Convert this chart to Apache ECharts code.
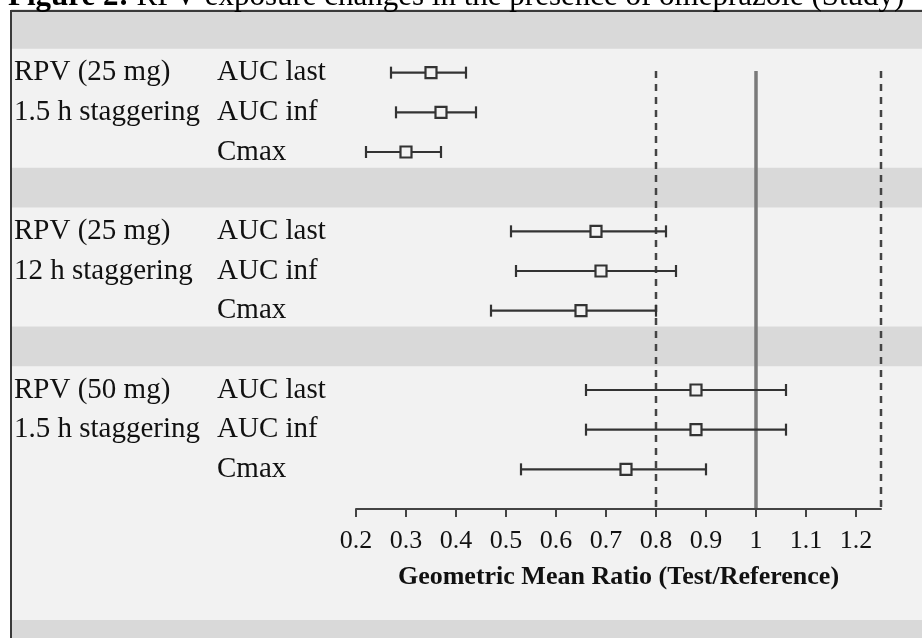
<!DOCTYPE html>
<html>
<head>
<meta charset="utf-8">
<title>RPV exposure forest plot</title>
<script src="https://cdn.jsdelivr.net/npm/echarts@6/dist/echarts.min.js"></script>
<style>
  html, body { margin: 0; padding: 0; background: #ffffff; }
  #chart { width: 922px; height: 638px; }
</style>
</head>
<body>
<div id="chart"></div>
<script>
// Study arms (two text lines each) and the PK parameters shown for every arm
const groupLines = [
  ['RPV (25 mg)', '1.5 h staggering'],
  ['RPV (25 mg)', '12 h staggering'],
  ['RPV (50 mg)', '1.5 h staggering']
];
const params = ['AUC last', 'AUC inf', 'Cmax'];

// Geometric mean ratios and 90% CI bounds, one array per arm (AUC last, AUC inf, Cmax)
const gmr25_15   = [0.35, 0.37, 0.30];
const lower25_15 = [0.27, 0.28, 0.22];
const upper25_15 = [0.42, 0.44, 0.37];

const gmr25_12   = [0.68, 0.69, 0.65];
const lower25_12 = [0.51, 0.52, 0.47];
const upper25_12 = [0.82, 0.84, 0.80];

const gmr50_15   = [0.88, 0.88, 0.74];
const lower50_15 = [0.66, 0.66, 0.53];
const upper50_15 = [1.06, 1.06, 0.90];

// Reference ratio and bioequivalence limits
const noEffect = 1;
const beLimits = [0.8, 1.25];

// X axis ticks
const tickValues = [0.2, 0.3, 0.4, 0.5, 0.6, 0.7, 0.8, 0.9, 1, 1.1, 1.2];
const xMin = 0.2;
const xMax = 1.25;

// ---- build rows: each arm takes a spacer row followed by three parameter rows
const arms = [
  { gmr: gmr25_15, lo: lower25_15, hi: upper25_15 },
  { gmr: gmr25_12, lo: lower25_12, hi: upper25_12 },
  { gmr: gmr50_15, lo: lower50_15, hi: upper50_15 }
];
const rowLabel = {};
const barData = [];
arms.forEach((arm, g) => {
  params.forEach((p, k) => {
    const row = 1 + 4 * g + k;
    rowLabel[row] = { group: groupLines[g][k] || '', param: p };
    barData.push([row, arm.lo[k], arm.gmr[k], arm.hi[k]]);
  });
});
const rowCount = 12;

// shaded spacer bands (in row units)
const bandRows = [[-0.6, 0.4], [3.4, 4.4], [7.4, 8.4], [14.8, 15.6]];

const refData = [
  [beLimits[0], 1],
  [noEffect, 0],
  [beLimits[1], 1]
];

const SERIF = 'Liberation Serif, Times New Roman, serif';
const INK = '#333333';

const chart = echarts.init(document.getElementById('chart'), null, { renderer: 'canvas' });

chart.setOption({
  animation: false,
  backgroundColor: '#ffffff',
  grid: { left: 356, right: 41, top: 33, bottom: 129, containLabel: false },
  xAxis: {
    type: 'value',
    min: xMin,
    max: xMax,
    z: 5,
    name: 'Geometric Mean Ratio (Test/Reference)',
    nameLocation: 'middle',
    nameGap: 55,
    nameTextStyle: { fontFamily: SERIF, fontSize: 26, fontWeight: 'bold', color: '#111' },
    axisLine: { onZero: false, lineStyle: { color: '#444', width: 2 } },
    axisTick: { customValues: tickValues, length: 8, lineStyle: { color: '#444', width: 2 } },
    axisLabel: {
      customValues: tickValues,
      fontFamily: SERIF, fontSize: 26, color: '#111', margin: 19,
      formatter: v => String(Math.round(v * 10) / 10)
    },
    splitLine: { show: false }
  },
  yAxis: {
    type: 'value',
    inverse: true,
    min: 0,
    max: rowCount,
    interval: 1,
    axisLine: { show: false },
    axisTick: { show: false },
    splitLine: { show: false },
    axisLabel: {
      align: 'left',
      margin: 342,
      formatter: v => {
        const r = rowLabel[v];
        if (!r) return '';
        return '{g|' + (r.group || ' ') + '}{p|' + r.param + '}';
      },
      rich: {
        g: { fontFamily: SERIF, fontSize: 29, color: '#111', width: 203 },
        p: { fontFamily: SERIF, fontSize: 29, color: '#111' }
      }
    }
  },
  graphic: [
    {
      type: 'rect', z: -10, silent: true,
      shape: { x: 11, y: 11, width: 940, height: 700 },
      style: { fill: '#f2f2f2' }
    },
    {
      type: 'rect', z: 100, silent: true,
      shape: { x: 11, y: 11, width: 940, height: 700 },
      style: { fill: 'none', stroke: '#3a3a3a', lineWidth: 2 }
    },
    {
      type: 'text', z: 100, silent: true,
      x: 8, y: -3,
      style: {
        text: '{b|Figure 2:} RPV exposure changes in the presence of omeprazole (Study)',
        fontFamily: SERIF, fontSize: 31, fill: '#000', verticalAlign: 'middle',
        rich: { b: { fontFamily: SERIF, fontSize: 31, fontWeight: 'bold', fill: '#000' } }
      }
    }
  ],
  series: [
    {
      // spacer bands across the whole panel
      type: 'custom',
      z: 1,
      clip: false,
      silent: true,
      data: bandRows,
      renderItem: (params, api) => {
        const y0 = api.coord([xMin, api.value(0)])[1];
        const y1 = api.coord([xMin, api.value(1)])[1];
        return {
          type: 'rect',
          shape: { x: 11, y: y0, width: api.getWidth() - 11, height: y1 - y0 },
          style: { fill: '#d9d9d9' }
        };
      }
    },
    {
      // no-effect line and bioequivalence limits
      type: 'custom',
      z: 2,
      clip: false,
      silent: true,
      data: refData,
      renderItem: (params, api) => {
        const x = api.value(0);
        const dashed = api.value(1) === 1;
        const top = api.coord([x, 0.96]);
        const bot = api.coord([x, rowCount]);
        return {
          type: 'line',
          shape: { x1: top[0], y1: top[1], x2: bot[0], y2: bot[1] },
          style: dashed
            ? { stroke: '#444', lineWidth: 2.5, lineDash: [7, 6] }
            : { stroke: '#7a7a7a', lineWidth: 3.5 }
        };
      }
    },
    {
      // confidence intervals with point estimates
      type: 'custom',
      z: 3,
      silent: true,
      clip: false,
      data: barData,
      renderItem: (params, api) => {
        const row = api.value(0);
        const lo = api.coord([api.value(1), row]);
        const pt = api.coord([api.value(2), row]);
        const hi = api.coord([api.value(3), row]);
        const cap = 6;
        const half = 5.5;
        return {
          type: 'group',
          children: [
            { type: 'line', shape: { x1: lo[0], y1: lo[1], x2: hi[0], y2: hi[1] },
              style: { stroke: INK, lineWidth: 2.2 } },
            { type: 'line', shape: { x1: lo[0], y1: lo[1] - cap, x2: lo[0], y2: lo[1] + cap },
              style: { stroke: INK, lineWidth: 2.2 } },
            { type: 'line', shape: { x1: hi[0], y1: hi[1] - cap, x2: hi[0], y2: hi[1] + cap },
              style: { stroke: INK, lineWidth: 2.2 } },
            { type: 'rect', shape: { x: pt[0] - half, y: pt[1] - half, width: 2 * half, height: 2 * half },
              style: { fill: '#f2f2f2', stroke: INK, lineWidth: 2.2 } }
          ]
        };
      }
    }
  ]
});
</script>
</body>
</html>
